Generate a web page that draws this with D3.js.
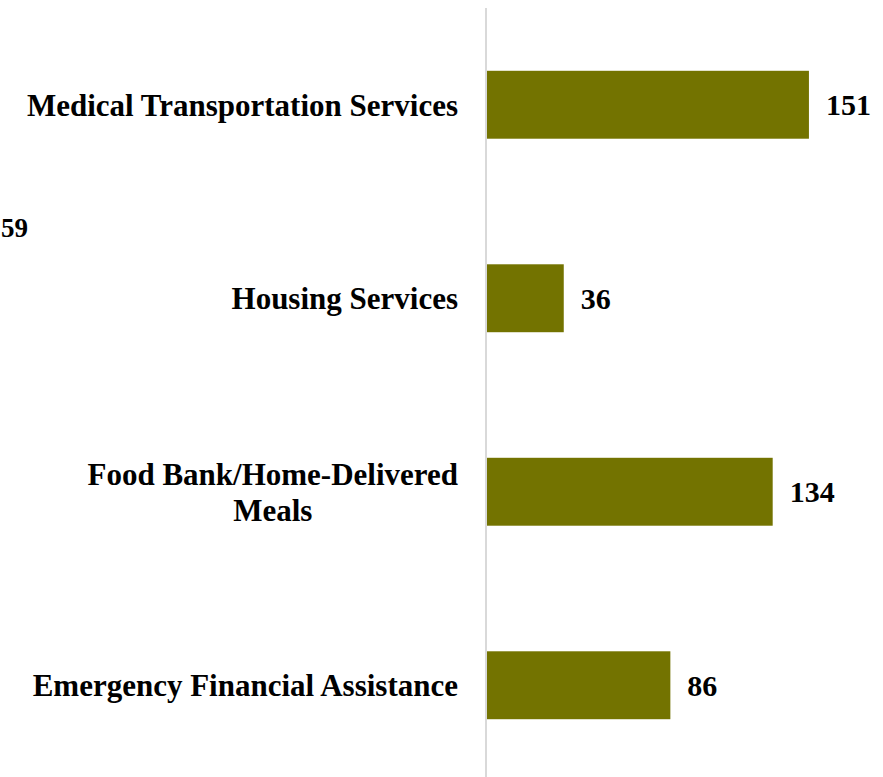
<!DOCTYPE html>
<html><head><meta charset="utf-8">
<script src="https://cdn.jsdelivr.net/npm/d3@7"></script>
<style>body{margin:0;background:#fff}svg{display:block}</style>
</head><body>
<svg id="c" width="883" height="777"></svg>
<script>
const categories = [["Medical Transportation Services"], ["Housing Services"], ["Food Bank/Home-Delivered", "Meals"], ["Emergency Financial Assistance"]];
const values = [151, 36, 134, 86];
const strayLabel = "59";

const svg = d3.select("#c");
const font = "'Liberation Serif', 'DejaVu Serif', serif";
const x = d3.scaleLinear().domain([0, 160]).range([487, 487 + 160 * 2.132]);
const y = d3.scaleBand().domain(d3.range(values.length)).range([8, 782]).paddingInner(0.649).paddingOuter(0.3245);

svg.append("line").attr("x1", 486).attr("x2", 486).attr("y1", 8).attr("y2", 777)
  .attr("stroke", "#d9d9d9").attr("stroke-width", 2);

svg.selectAll("rect.bar").data(values).join("rect").attr("class", "bar")
  .attr("x", x(0)).attr("y", (d, i) => y(i)).attr("width", d => x(d) - x(0)).attr("height", y.bandwidth())
  .attr("fill", "#737300");

svg.selectAll("text.val").data(values).join("text").attr("class", "val")
  .attr("x", d => x(d) + 17).attr("y", (d, i) => y(i) + y.bandwidth() / 2).attr("dy", "0.35em")
  .attr("font-family", font).attr("font-weight", "bold").attr("font-size", 30).attr("fill", "#000")
  .text(d => d);

const lab = svg.selectAll("text.cat").data(categories).join("text").attr("class", "cat")
  .attr("text-anchor", "middle").attr("font-family", font).attr("font-weight", "bold").attr("font-size", 31).attr("fill", "#000")
  .attr("transform", (d, i) => `translate(458,${y(i) + y.bandwidth() / 2})`);
lab.selectAll("tspan").data(d => d.map((t, k) => ({t, k, n: d.length}))).join("tspan")
  .attr("x", 0).attr("y", d => (d.k - (d.n - 1) / 2) * 36).attr("dy", "0.35em").text(d => d.t);
// right-align each label block, centering its lines within the block
lab.each(function () {
  const w = this.getBBox().width;
  d3.select(this).selectAll("tspan").attr("x", -w / 2);
});

svg.append("text").attr("x", 1).attr("y", 228).attr("dy", "0.35em").attr("text-anchor", "start")
  .attr("font-family", font).attr("font-weight", "bold").attr("font-size", 27).text(strayLabel);
</script>
</body></html>
